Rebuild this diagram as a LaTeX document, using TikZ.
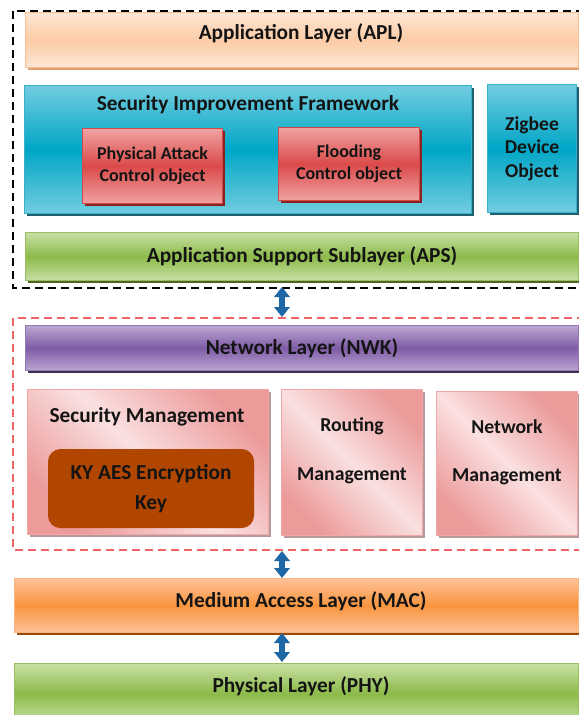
\documentclass[tikz,border=0pt]{standalone}
\usepackage{fontspec}
\setmainfont{Carlito}
\usetikzlibrary{shadows,arrows.meta}
\definecolor{peachL}{HTML}{FEE6D4}
\definecolor{peachD}{HTML}{FCCCA6}
\definecolor{peachB}{HTML}{F7BE94}
\definecolor{peachS}{HTML}{E0A070}
\definecolor{tealL}{HTML}{72CDDF}
\definecolor{tealD}{HTML}{00A6C6}
\definecolor{tealB}{HTML}{3AAFC8}
\definecolor{tealS}{HTML}{1F5F70}
\definecolor{redL}{HTML}{F0A2A2}
\definecolor{redD}{HTML}{DB4A4A}
\definecolor{redB}{HTML}{D24848}
\definecolor{redS}{HTML}{8A2222}
\definecolor{greenL}{HTML}{C8E0A4}
\definecolor{greenD}{HTML}{8CBA4A}
\definecolor{greenB}{HTML}{9BC060}
\definecolor{greenS}{HTML}{4F6228}
\definecolor{purpL}{HTML}{BBA6D2}
\definecolor{purpD}{HTML}{7E5CA6}
\definecolor{purpB}{HTML}{9478B6}
\definecolor{purpS}{HTML}{3F3151}
\definecolor{pinkL}{HTML}{FAE0E0}
\definecolor{pinkD}{HTML}{EC9A9A}
\definecolor{pinkB}{HTML}{F0A8A8}
\definecolor{pinkS}{HTML}{B89898}
\definecolor{kybrown}{HTML}{B04600}
\definecolor{orL}{HTML}{FFC196}
\definecolor{orD}{HTML}{F8953E}
\definecolor{orB}{HTML}{FBB57E}
\definecolor{orS}{HTML}{9A4A0A}
\definecolor{arrowblue}{HTML}{1F68A6}
\definecolor{reddash}{HTML}{F06464}
\tikzset{
  box/.style={draw, line width=0.8pt, inner sep=0pt, anchor=north west, align=center,
    font=\bfseries\fontsize{16}{19}\selectfont, text=black!92},
  sz/.style 2 args={minimum width=#1*0.75pt, minimum height=#2*0.75pt},
  shd/.style={general shadow={shadow xshift=2.2pt, shadow yshift=-2.2pt, fill=#1}},
  band/.style n args={4}{top color=#1, bottom color=#1, middle color=#2, draw=#3, shd=#4},
  diag/.style={left color=pinkD, right color=pinkD, middle color=pinkL, shading angle=-45, draw=pinkB, shd=pinkS},
  lbl/.style={align=center, font=\bfseries\fontsize{16}{19}\selectfont, text=black!92, inner sep=0pt},
  small/.style={font=\bfseries\fontsize{13.5}{16.5}\selectfont},
  updown/.style={line width=4.5pt, draw=arrowblue,
    {Triangle[width=11.5pt,length=7.5pt]}-{Triangle[width=11.5pt,length=7.5pt]}},
  dashbox/.style={line width=0.9pt, dash pattern=on 6pt off 3.75pt}
}
\begin{document}
\begin{tikzpicture}[x=0.75pt,y=-0.75pt]
\useasboundingbox (0,0) rectangle (579,715);
\clip (0,0) rectangle (579,715);

% dashed groups
\draw[dashbox, black] (13,11) rectangle (600,288);
\draw[dashbox, reddash] (13,318) rectangle (600,550);

% upper group
\node[box, sz={553}{55}, band={peachL}{peachD}{peachB}{peachS}] (apl) at (25,12) {};
\node[lbl] (apltext) at (301,33) {Application Layer (APL)};
\node[box, sz={447}{128}, band={tealL}{tealD}{tealB}{tealS}] (sif) at (24,85) {};
\node[lbl] (siftitle) at (248,105) {Security Improvement Framework};
\node[box, small, sz={140}{75}, band={redL}{redD}{redB}{redS}] (pa) at (82,128) {Physical Attack\\Control object};
\node[box, small, sz={141}{73}, band={redL}{redD}{redB}{redS}] (fl) at (278,127) {Flooding\\Control object};
\node[box, sz={89}{128}, band={tealL}{tealD}{tealB}{tealS}, font=\bfseries\fontsize{14.7}{17.6}\selectfont] (zdo) at (487,84) {Zigbee\\Device\\Object};
\node[box, sz={553}{48}, band={greenL}{greenD}{greenB}{greenS}] (aps) at (25,232) {Application Support Sublayer (APS)};

% network group
\node[box, sz={553}{45}, band={purpL}{purpD}{purpB}{purpS}] (nwk) at (25,325) {Network Layer (NWK)};
\node[box, sz={241}{145}, diag] (sm) at (27,389) {};
\node[lbl] (smtitle) at (147,417) {Security Management};
\node[box, sz={205}{78}, fill=kybrown, draw=kybrown, rounded corners=9pt, font=\bfseries\fontsize{16}{22.5}\selectfont] (ky) at (48,449) {KY AES Encryption\\Key};
\node[box, sz={141}{146}, diag] (rm) at (281,389) {};
\node[lbl, font=\bfseries\fontsize{14.8}{36.5}\selectfont] (rmtext) at (352,451) {Routing\\Management};
\node[box, sz={141}{144}, diag] (nm) at (436,391) {};
\node[lbl, font=\bfseries\fontsize{14.8}{36}\selectfont] (nmtext) at (507,452) {Network\\Management};

% lower layers
\node[box, sz={564}{54}, band={orL}{orD}{orB}{orS}] (mac) at (14,578) {};
\node[lbl] (mactext) at (301,601) {Medium Access Layer (MAC)};
\node[box, sz={564}{60}, band={greenL}{greenD}{greenB}{greenS}] (phy) at (14,663) {};
\node[lbl] (phytext) at (301,686) {Physical Layer (PHY)};

% arrows
\coordinate (a1t) at (282,287);
\coordinate (a1b) at (282,317);
\coordinate (a2t) at (282,551);
\coordinate (a2b) at (282,578);
\coordinate (a3t) at (282,633);
\coordinate (a3b) at (282,662);
\draw[updown] (a1t) -- (a1b);
\draw[updown] (a2t) -- (a2b);
\draw[updown] (a3t) -- (a3b);
\end{tikzpicture}
\end{document}
